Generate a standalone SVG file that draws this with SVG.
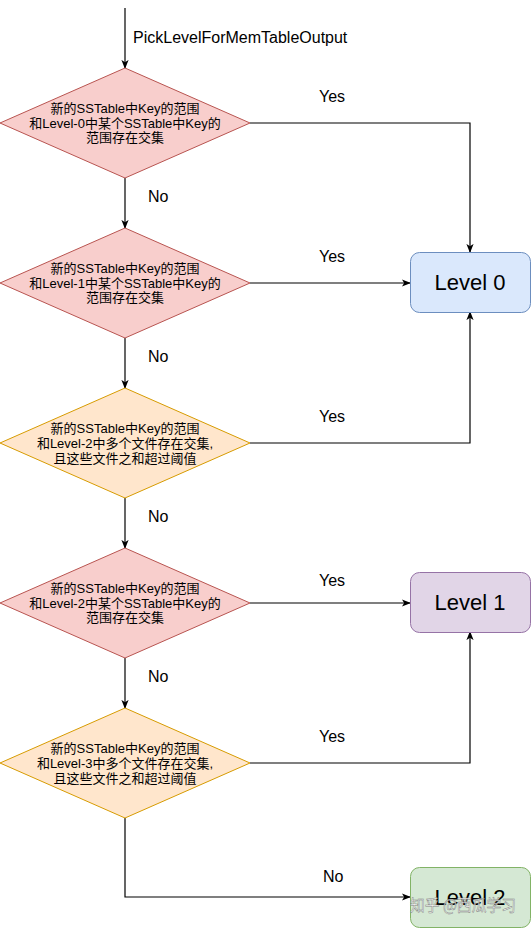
<svg xmlns="http://www.w3.org/2000/svg" width="532" height="929" viewBox="0 0 532 929">
<defs>
<marker id="arr" viewBox="0 0 10 10" refX="9" refY="5" markerWidth="9" markerHeight="9" markerUnits="userSpaceOnUse" orient="auto">
<path d="M0,1 L10,5 L0,9 L2.5,5 Z" fill="#000"/>
</marker>
</defs>
<style>
.red{fill:#f8cecc;stroke:#b85450;stroke-width:1}
.org{fill:#ffe6cc;stroke:#d79b00;stroke-width:1}
.dt{font-family:"Liberation Sans","Noto Sans CJK SC",sans-serif;font-size:13px;fill:#000;text-anchor:middle;dominant-baseline:central}
.lt{font-family:"Liberation Sans",Arial,sans-serif;font-size:16px;fill:#000}
.bt{font-family:"Liberation Sans",Arial,sans-serif;font-size:22px;fill:#000;text-anchor:middle;dominant-baseline:central}
.ln{fill:none;stroke:#000;stroke-width:1.2}
</style>
<rect width="532" height="929" fill="#fff"/>
<g id="connectors">
<path class="ln" d="M125,8 V68" marker-end="url(#arr)"/>
<path class="ln" d="M250,123 H470 V252" marker-end="url(#arr)"/>
<path class="ln" d="M125,178 V228" marker-end="url(#arr)"/>
<path class="ln" d="M250,283 H410" marker-end="url(#arr)"/>
<path class="ln" d="M125,338 V388" marker-end="url(#arr)"/>
<path class="ln" d="M250,443 H470 V312" marker-end="url(#arr)"/>
<path class="ln" d="M125,498 V548" marker-end="url(#arr)"/>
<path class="ln" d="M250,603 H410" marker-end="url(#arr)"/>
<path class="ln" d="M125,658 V708" marker-end="url(#arr)"/>
<path class="ln" d="M250,763 H470 V632" marker-end="url(#arr)"/>
<path class="ln" d="M125,818 V897 H410" marker-end="url(#arr)"/>
<text class="lt" x="133" y="43">PickLevelForMemTableOutput</text>
<text class="lt" x="319" y="102">Yes</text>
<text class="lt" x="148" y="202">No</text>
<text class="lt" x="319" y="262">Yes</text>
<text class="lt" x="148" y="362">No</text>
<text class="lt" x="319" y="422">Yes</text>
<text class="lt" x="148" y="522">No</text>
<text class="lt" x="319" y="586">Yes</text>
<text class="lt" x="148" y="682">No</text>
<text class="lt" x="319" y="742">Yes</text>
<text class="lt" x="323" y="882">No</text>
</g>
<g id="d1">
<path class="red" d="M125,68 L250,123 L125,178 L0,123 Z"/>
<text class="dt" x="125" y="108.5">新的SSTable中Key的范围</text>
<text class="dt" x="125" y="123">和Level-0中某个SSTable中Key的</text>
<text class="dt" x="125" y="137.5">范围存在交集</text>
</g>
<g id="d2">
<path class="red" d="M125,228 L250,283 L125,338 L0,283 Z"/>
<text class="dt" x="125" y="268.5">新的SSTable中Key的范围</text>
<text class="dt" x="125" y="283">和Level-1中某个SSTable中Key的</text>
<text class="dt" x="125" y="297.5">范围存在交集</text>
</g>
<g id="d3">
<path class="org" d="M125,388 L250,443 L125,498 L0,443 Z"/>
<text class="dt" x="125" y="428">新的SSTable中Key的范围</text>
<text class="dt" x="125" y="443">和Level-2中多个文件存在交集,</text>
<text class="dt" x="125" y="458">且这些文件之和超过阈值</text>
</g>
<g id="d4">
<path class="red" d="M125,548 L250,603 L125,658 L0,603 Z"/>
<text class="dt" x="125" y="588.5">新的SSTable中Key的范围</text>
<text class="dt" x="125" y="603">和Level-2中某个SSTable中Key的</text>
<text class="dt" x="125" y="617.5">范围存在交集</text>
</g>
<g id="d5">
<path class="org" d="M125,708 L250,763 L125,818 L0,763 Z"/>
<text class="dt" x="125" y="748">新的SSTable中Key的范围</text>
<text class="dt" x="125" y="763">和Level-3中多个文件存在交集,</text>
<text class="dt" x="125" y="778">且这些文件之和超过阈值</text>
</g>
<g id="level0">
<rect x="410.5" y="252.5" width="120" height="60" rx="9" fill="#dae8fc" stroke="#6c8ebf"/>
<text class="bt" x="470" y="282">Level 0</text>
</g>
<g id="level1">
<rect x="410.5" y="572.5" width="120" height="60" rx="9" fill="#e1d5e7" stroke="#9673a6"/>
<text class="bt" x="470" y="602">Level 1</text>
</g>
<g id="level2">
<rect x="410.5" y="867.5" width="120" height="60" rx="9" fill="#d5e8d4" stroke="#82b366"/>
<text class="bt" x="470" y="897">Level 2</text>
</g>
<text x="410" y="911" font-family="'Noto Sans CJK SC',sans-serif" font-size="16" textLength="106" lengthAdjust="spacingAndGlyphs" fill="#fff" stroke="#777" stroke-width="0.5" opacity="0.9">知乎 @西瓜学习</text>
</svg>
